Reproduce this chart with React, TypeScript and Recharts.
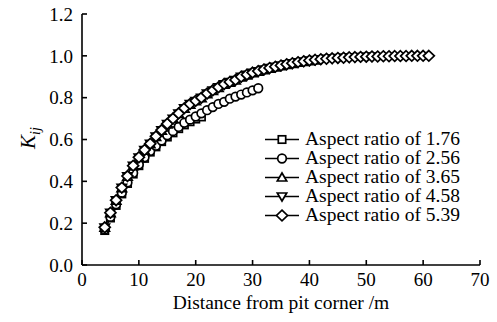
import React from 'react';
import { LineChart, Line, XAxis, YAxis, Legend, Label } from 'recharts';

const FONT = '"Liberation Serif", "Times New Roman", serif';

const xTicks = [0, 10, 20, 30, 40, 50, 60, 70];
const yTicks = [0, 0.2, 0.4, 0.6, 0.8, 1.0, 1.2];

// aspect ratio 1.76
const dist176 = [4, 5, 6, 7, 8, 9, 10, 11, 12, 13, 14, 15, 16, 17, 18, 19, 20, 21];
const k176 = [0.165, 0.225, 0.285, 0.34, 0.39, 0.435, 0.475, 0.51, 0.54, 0.565, 0.59, 0.612, 0.632, 0.652, 0.67, 0.685, 0.698, 0.708];

// aspect ratio 2.56
const dist256 = [4, 5, 6, 7, 8, 9, 10, 11, 12, 13, 14, 15, 16, 17, 18, 19, 20, 21, 22, 23, 24, 25, 26, 27, 28, 29, 30, 31];
const k256 = [0.17, 0.23, 0.29, 0.345, 0.395, 0.44, 0.48, 0.515, 0.545, 0.57, 0.595, 0.62, 0.64, 0.66, 0.68, 0.695, 0.71, 0.725, 0.74, 0.755, 0.77, 0.78, 0.795, 0.805, 0.815, 0.825, 0.835, 0.845];

// aspect ratio 3.65
const dist365 = [4, 5, 6, 7, 8, 9, 10, 11, 12, 13, 14, 15, 16, 17, 18, 19, 20, 21, 22, 23, 24, 25, 26, 27, 28, 29, 30, 31, 32, 33, 34, 35, 36, 37, 38, 39, 40, 41];
const k365 = [0.178, 0.248, 0.308, 0.368, 0.422, 0.472, 0.512, 0.547, 0.578, 0.612, 0.642, 0.672, 0.698, 0.722, 0.747, 0.767, 0.783, 0.798, 0.817, 0.832, 0.847, 0.862, 0.872, 0.882, 0.897, 0.907, 0.917, 0.924, 0.932, 0.939, 0.945, 0.951, 0.957, 0.962, 0.967, 0.971, 0.975, 0.978];

// aspect ratio 4.58
const dist458 = [4, 5, 6, 7, 8, 9, 10, 11, 12, 13, 14, 15, 16, 17, 18, 19, 20, 21, 22, 23, 24, 25, 26, 27, 28, 29, 30, 31, 32, 33, 34, 35, 36, 37, 38, 39, 40, 41, 42, 43, 44, 45, 46, 47, 48, 49, 50, 51];
const k458 = [0.179, 0.249, 0.309, 0.369, 0.424, 0.474, 0.514, 0.549, 0.579, 0.614, 0.644, 0.674, 0.699, 0.724, 0.749, 0.769, 0.784, 0.799, 0.819, 0.834, 0.849, 0.864, 0.874, 0.884, 0.899, 0.909, 0.919, 0.926, 0.934, 0.941, 0.947, 0.953, 0.959, 0.964, 0.969, 0.973, 0.977, 0.98, 0.983, 0.985, 0.987, 0.989, 0.99, 0.992, 0.993, 0.994, 0.995, 0.996];

// aspect ratio 5.39
const dist539 = [4, 5, 6, 7, 8, 9, 10, 11, 12, 13, 14, 15, 16, 17, 18, 19, 20, 21, 22, 23, 24, 25, 26, 27, 28, 29, 30, 31, 32, 33, 34, 35, 36, 37, 38, 39, 40, 41, 42, 43, 44, 45, 46, 47, 48, 49, 50, 51, 52, 53, 54, 55, 56, 57, 58, 59, 60, 61];
const k539 = [0.18, 0.25, 0.31, 0.37, 0.425, 0.475, 0.515, 0.55, 0.58, 0.615, 0.645, 0.675, 0.7, 0.725, 0.75, 0.77, 0.785, 0.8, 0.82, 0.835, 0.85, 0.865, 0.875, 0.885, 0.9, 0.91, 0.92, 0.927, 0.935, 0.942, 0.948, 0.954, 0.96, 0.965, 0.97, 0.974, 0.978, 0.981, 0.984, 0.986, 0.988, 0.99, 0.991, 0.993, 0.994, 0.995, 0.996, 0.997, 0.997, 0.998, 0.998, 0.999, 0.999, 0.999, 1.0, 1.0, 1.0, 1.0];

const toPoints = (xs: number[], ks: number[]) => xs.map((x, i) => ({ x, k: ks[i] }));

type Shape = 'square' | 'circle' | 'up' | 'down' | 'diamond';

const series: { name: string; shape: Shape; data: { x: number; k: number }[] }[] = [
  { name: 'Aspect ratio of 1.76', shape: 'square', data: toPoints(dist176, k176) },
  { name: 'Aspect ratio of 2.56', shape: 'circle', data: toPoints(dist256, k256) },
  { name: 'Aspect ratio of 3.65', shape: 'up', data: toPoints(dist365, k365) },
  { name: 'Aspect ratio of 4.58', shape: 'down', data: toPoints(dist458, k458) },
  { name: 'Aspect ratio of 5.39', shape: 'diamond', data: toPoints(dist539, k539) },
];

const Marker = ({ shape, cx, cy }: { shape: Shape; cx: number; cy: number }) => {
  const st = { fill: '#fff', stroke: '#000', strokeWidth: 1.7 };
  switch (shape) {
    case 'square':
      return <rect x={cx - 3.7} y={cy - 3.7} width={7.4} height={7.4} {...st} />;
    case 'circle':
      return <circle cx={cx} cy={cy} r={4.3} {...st} />;
    case 'up':
      return <polygon points={`${cx},${cy - 4.5} ${cx + 4.7},${cy + 3.5} ${cx - 4.7},${cy + 3.5}`} {...st} />;
    case 'down':
      return <polygon points={`${cx},${cy + 4.5} ${cx + 4.7},${cy - 3.5} ${cx - 4.7},${cy - 3.5}`} {...st} />;
    default:
      return <polygon points={`${cx},${cy - 5.3} ${cx + 5.5},${cy} ${cx},${cy + 5.3} ${cx - 5.5},${cy}`} {...st} />;
  }
};

const LegendBox = () => (
  <div style={{ fontFamily: FONT, fontSize: 19.5, color: '#000' }}>
    {series.map((s) => (
      <div key={s.name} style={{ display: 'flex', alignItems: 'center', height: 19, whiteSpace: 'nowrap' }}>
        <svg width={40} height={19}>
          <line x1={0} y1={9.5} x2={34} y2={9.5} stroke="#000" strokeWidth={1.6} />
          <Marker shape={s.shape} cx={17} cy={9.5} />
        </svg>
        <span>{s.name}</span>
      </div>
    ))}
  </div>
);

const tickStyle = { fill: '#000', fontSize: 19, fontFamily: FONT };

export default function App() {
  return (
    <div style={{ position: 'absolute', left: 0, top: 0, background: '#fff' }}>
      <LineChart width={497} height={322} margin={{ top: 14, right: 17, left: 0, bottom: 0 }}>
        <XAxis
          type="number"
          dataKey="x"
          domain={[0, 70]}
          ticks={xTicks}
          height={57}
          allowDuplicatedCategory={false}
          axisLine={{ stroke: '#000', strokeWidth: 1.6 }}
          tickLine={{ stroke: '#000', strokeWidth: 1.6 }}
          tickSize={-5}
          tickMargin={13}
          tick={tickStyle}
        >
          <Label
            content={({ viewBox }: any) => (
              <text
                x={viewBox.x + viewBox.width / 2}
                y={viewBox.y + 44}
                textAnchor="middle"
                fontFamily={FONT}
                fontSize={19.5}
                fill="#000"
              >
                Distance from pit corner /m
              </text>
            )}
          />
        </XAxis>
        <YAxis
          type="number"
          domain={[0, 1.2]}
          ticks={yTicks}
          width={82}
          axisLine={{ stroke: '#000', strokeWidth: 1.6 }}
          tickLine={{ stroke: '#000', strokeWidth: 1.6 }}
          tickSize={-5}
          tickMargin={14}
          tick={tickStyle}
          tickFormatter={(v: number) => v.toFixed(1)}
        >
          <Label
            content={() => (
              <text
                transform="translate(35,138) rotate(-90)"
                textAnchor="middle"
                fontFamily={FONT}
                fontSize={21}
                fontStyle="italic"
                fill="#000"
              >
                K<tspan fontSize={14} dy={5}>ij</tspan>
              </text>
            )}
          />
        </YAxis>
        <Legend
          layout="vertical"
          align="center"
          verticalAlign="middle"
          wrapperStyle={{ position: 'absolute', left: 265, top: 129.5, width: 230 }}
          content={() => <LegendBox />}
        />
        {series.map((s) => (
          <Line
            key={s.name}
            name={s.name}
            data={s.data}
            dataKey="k"
            type="linear"
            stroke="#000"
            strokeWidth={1}
            isAnimationActive={false}
            dot={(p: any) => <Marker key={`${s.shape}-${p.index}`} shape={s.shape} cx={p.cx} cy={p.cy} />}
            activeDot={false}
          />
        ))}
      </LineChart>
    </div>
  );
}
